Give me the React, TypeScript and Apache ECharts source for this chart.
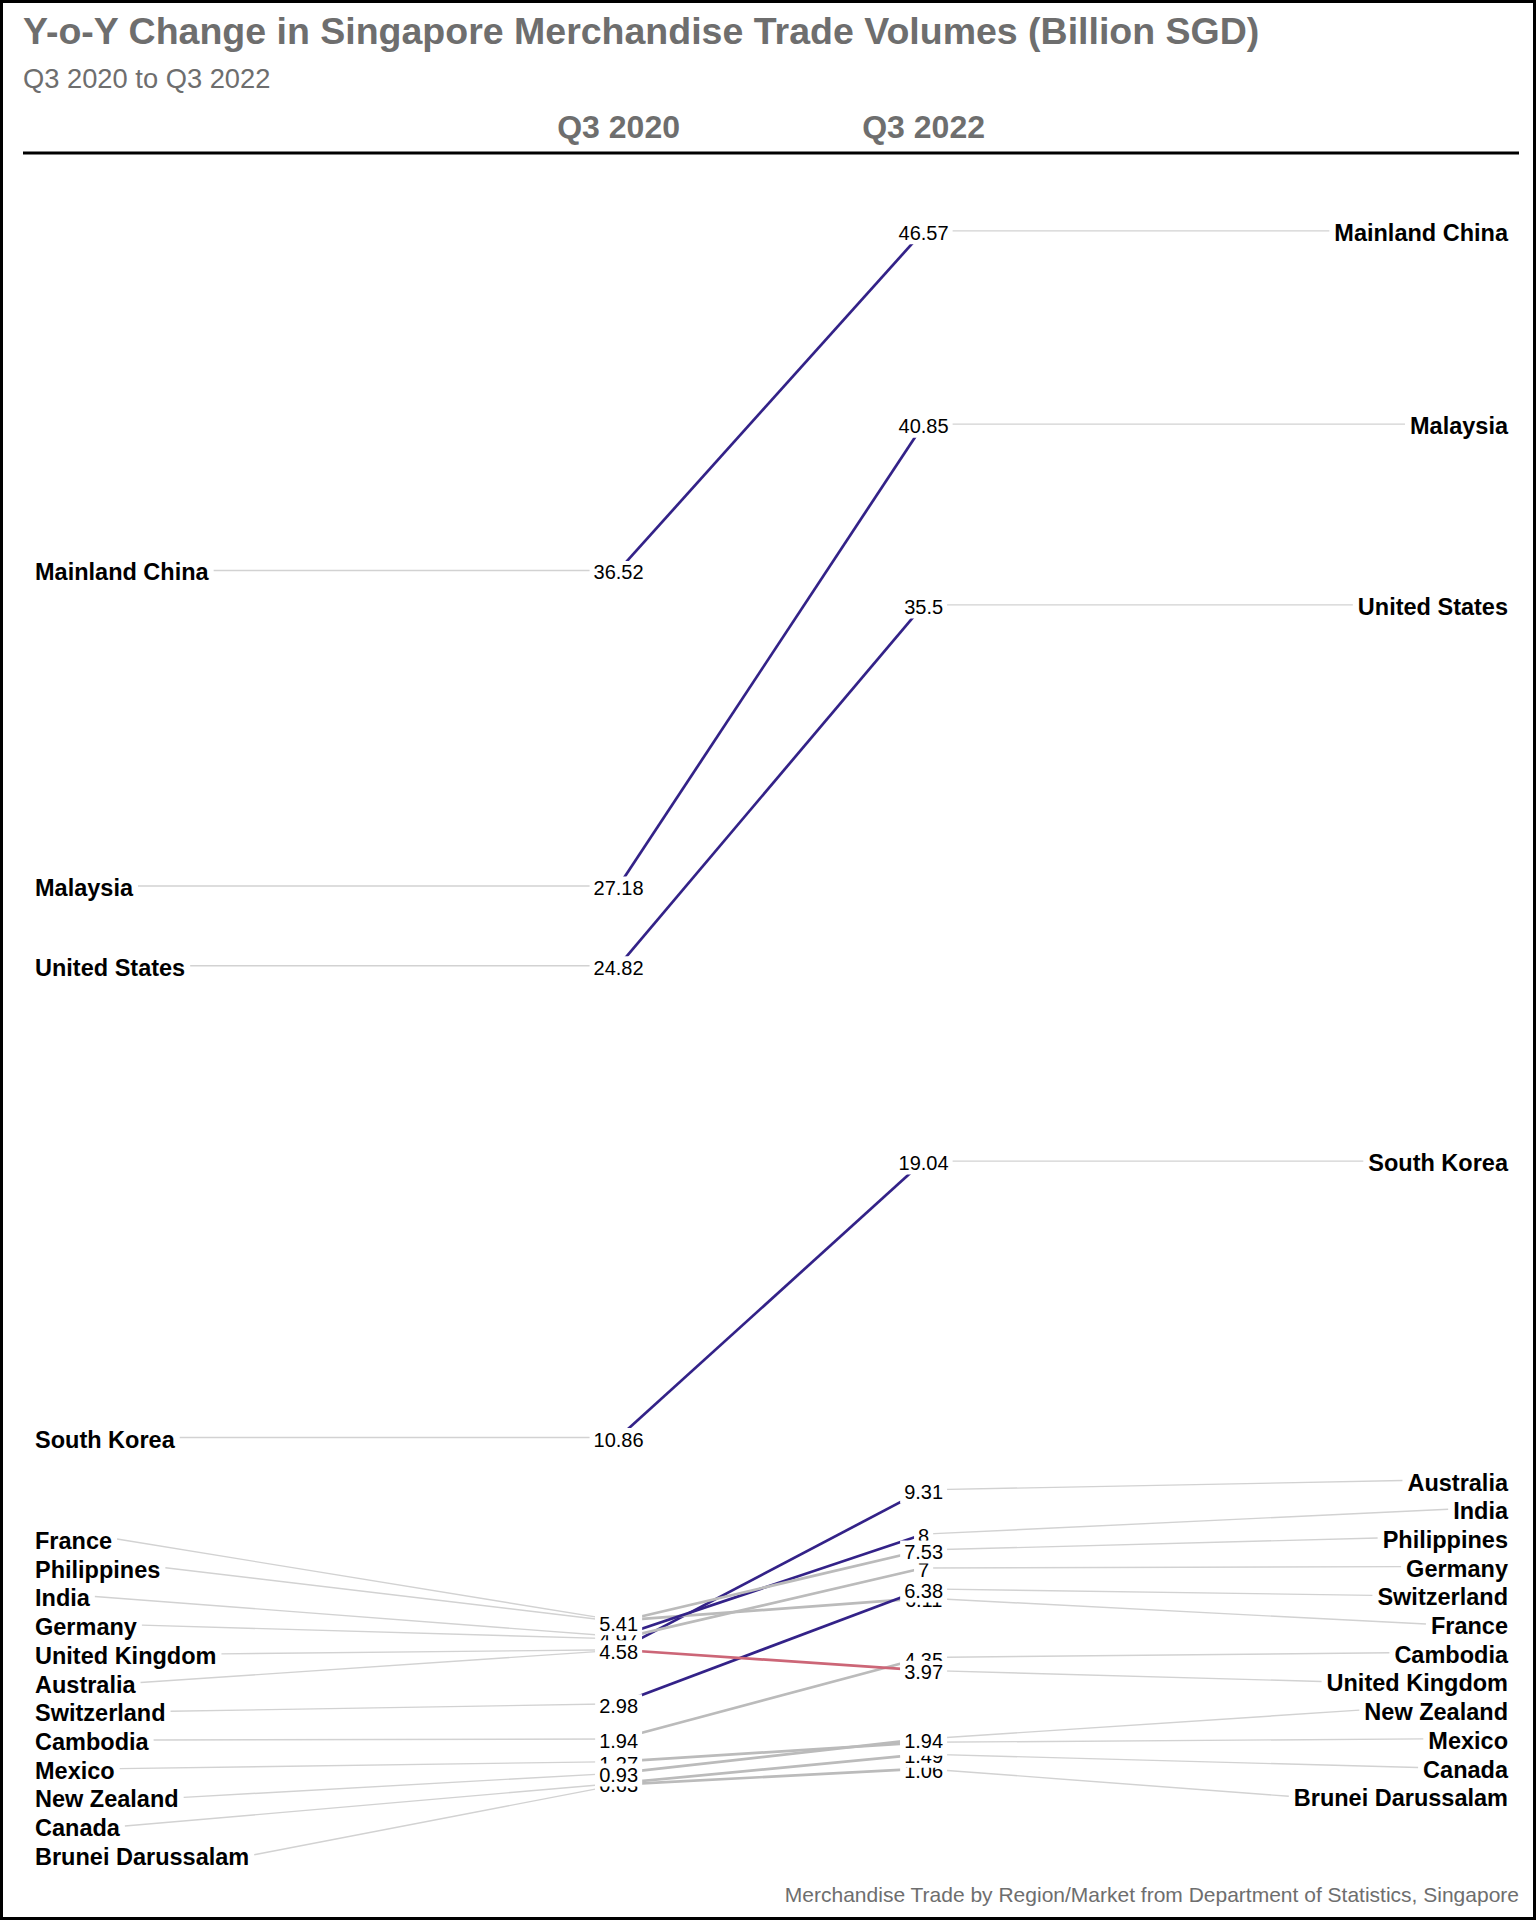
import React, { useEffect, useRef } from "react";
import * as echarts from "echarts";

// ---------- data ----------
const COUNTRIES = [
  "Mainland China",
  "Malaysia",
  "United States",
  "South Korea",
  "France",
  "Philippines",
  "India",
  "Germany",
  "United Kingdom",
  "Australia",
  "Switzerland",
  "Cambodia",
  "Mexico",
  "New Zealand",
  "Canada",
  "Brunei Darussalam",
];
const Q3_2020 = [36.52, 27.18, 24.82, 10.86, 5.44, 5.41, 4.97, 4.9, 4.58, 4.57, 2.98, 1.94, 1.27, 0.93, 0.63, 0.59];
const Q3_2022 = [46.57, 40.85, 35.5, 19.04, 6.11, 7.53, 8, 7, 3.97, 9.31, 6.38, 4.35, 1.84, 1.94, 1.49, 1.06];
const PERIODS = ["Q3 2020", "Q3 2022"];

const TITLE = "Y-o-Y Change in Singapore Merchandise Trade Volumes (Billion SGD)";
const SUBTITLE = "Q3 2020 to Q3 2022";
const CAPTION = "Merchandise Trade by Region/Market from Department of Statistics, Singapore";

// ---------- style ----------
const FONT = '"Liberation Sans", Arial, Helvetica, sans-serif';
const GREY_TEXT = "#6e6e6e";
const UP = "#332288";
const DOWN = "#CC6677";
const FLAT = "#BBBBBB";
const LEADER = "#d2d2d2";
const BIG_CHANGE = 3;
const LABEL_GAP = 28.7; // px between repelled country labels
const LEFT_X = 35;
const RIGHT_X = 1508;
const COUNTRY_FONT_SIZE = 23.5;
const VALUE_FONT_SIZE = 20;

// alphabetical drawing order (later covers earlier)
const ALPHA_RANK: number[] = (() => {
  const idx = COUNTRIES.map((_, i) => i).sort((a, b) => COUNTRIES[a].localeCompare(COUNTRIES[b]));
  const r = new Array(COUNTRIES.length).fill(0);
  idx.forEach((i, k) => (r[i] = k));
  return r;
})();

let measureCtx: CanvasRenderingContext2D | null = null;
function textWidth(text: string, size: number, weight: string) {
  if (!measureCtx) measureCtx = document.createElement("canvas").getContext("2d");
  if (!measureCtx) return text.length * size * 0.55;
  measureCtx.font = `${weight} ${size}px "Liberation Sans", Arial, sans-serif`;
  return measureCtx.measureText(text).width;
}

// simple 1-D label repel: overlapping labels are merged into evenly spaced clusters
function repel(targets: number[], gap: number): number[] {
  const order = targets.map((_, i) => i).sort((a, b) => targets[a] - targets[b]);
  let clusters = order.map((i) => ({ idx: [i], center: targets[i] }));
  let merged = true;
  while (merged) {
    merged = false;
    for (let c = 0; c < clusters.length - 1; c++) {
      const a = clusters[c];
      const b = clusters[c + 1];
      const aBottom = a.center + ((a.idx.length - 1) / 2) * gap;
      const bTop = b.center - ((b.idx.length - 1) / 2) * gap;
      if (bTop - aBottom < gap - 1e-6) {
        const idx = a.idx.concat(b.idx);
        const center = idx.reduce((s, i) => s + targets[i], 0) / idx.length;
        clusters.splice(c, 2, { idx, center });
        merged = true;
        break;
      }
    }
  }
  const out = new Array(targets.length).fill(0);
  clusters.forEach((cl) => {
    const n = cl.idx.length;
    cl.idx.forEach((i, k) => {
      out[i] = cl.center + (k - (n - 1) / 2) * gap;
    });
  });
  return out;
}

function lineColor(i: number) {
  const d = Q3_2022[i] - Q3_2020[i];
  if (d < 0) return DOWN;
  if (d > BIG_CHANGE) return UP;
  return FLAT;
}

const seriesData = COUNTRIES.map((_, i) => [0, Q3_2020[i], 1, Q3_2022[i]]);

function labelPositions(api: any) {
  const left = COUNTRIES.map((_, k) => api.coord([0, Q3_2020[k]])[1]);
  const right = COUNTRIES.map((_, k) => api.coord([1, Q3_2022[k]])[1]);
  return { ly: repel(left, LABEL_GAP), ry: repel(right, LABEL_GAP) };
}

export default function App() {
  const ref = useRef<HTMLDivElement>(null);

  useEffect(() => {
    document.body.style.margin = "0";
    if (!ref.current) return;
    const chart = echarts.init(ref.current, undefined, { renderer: "svg" });

    const option: any = {
      animation: false,
      backgroundColor: "#ffffff",
      grid: { left: 618.6, right: 612.4, top: 155.5, bottom: 115.5 },
      xAxis: {
        type: "value",
        min: 0,
        max: 1,
        interval: 1,
        position: "top",
        axisLine: { show: false },
        axisTick: { show: false },
        splitLine: { show: false },
        axisLabel: {
          showMinLabel: true,
          showMaxLabel: true,
          margin: 12.5,
          formatter: (v: number) => PERIODS[Math.round(v)] ?? "",
          fontSize: 32,
          fontWeight: "bold",
          color: GREY_TEXT,
          fontFamily: FONT,
        },
      },
      yAxis: { type: "value", min: 0, max: 48.8, show: false },
      graphic: [
        {
          type: "rect",
          shape: { x: 1.5, y: 1.5, width: 1533, height: 1917 },
          style: { fill: "none", stroke: "#000", lineWidth: 3 },
          silent: true,
        },
        {
          type: "text",
          x: 23,
          y: 30.7,
          style: {
            text: TITLE,
            fontSize: 37.5,
            fontWeight: "bold",
            fontFamily: FONT,
            fill: GREY_TEXT,
            verticalAlign: "middle",
          },
        },
        {
          type: "text",
          x: 23,
          y: 78,
          style: {
            text: SUBTITLE,
            fontSize: 27.3,
            fontFamily: FONT,
            fill: GREY_TEXT,
            verticalAlign: "middle",
          },
        },
        {
          type: "line",
          shape: { x1: 23, y1: 153, x2: 1519, y2: 153 },
          style: { stroke: "#000", lineWidth: 3 },
        },
        {
          type: "text",
          x: 1519,
          y: 1894.5,
          style: {
            text: CAPTION,
            fontSize: 21,
            fontFamily: FONT,
            fill: GREY_TEXT,
            align: "right",
            verticalAlign: "middle",
          },
        },
      ],
      series: [
        // leader lines from country labels to points
        {
          type: "custom",
          coordinateSystem: "cartesian2d",
          z: 1,
          silent: true,
          encode: { x: [0, 2], y: [1, 3] },
          data: seriesData,
          renderItem: (params: any, api: any) => {
            const i = params.dataIndex;
            const { ly, ry } = labelPositions(api);
            const p1 = api.coord([api.value(0), api.value(1)]);
            const p2 = api.coord([api.value(2), api.value(3)]);
            const w = textWidth(COUNTRIES[i], COUNTRY_FONT_SIZE, "bold");
            return {
              type: "group",
              children: [
                {
                  type: "line",
                  shape: { x1: LEFT_X + w + 5, y1: ly[i], x2: p1[0], y2: p1[1] },
                  style: { stroke: LEADER, lineWidth: 1.4 },
                },
                {
                  type: "line",
                  shape: { x1: p2[0], y1: p2[1], x2: RIGHT_X - w - 5, y2: ry[i] },
                  style: { stroke: LEADER, lineWidth: 1.4 },
                },
              ],
            };
          },
        },
        // slope lines
        {
          type: "custom",
          coordinateSystem: "cartesian2d",
          z: 2,
          silent: true,
          encode: { x: [0, 2], y: [1, 3] },
          data: seriesData,
          renderItem: (params: any, api: any) => {
            const i = params.dataIndex;
            const p1 = api.coord([api.value(0), api.value(1)]);
            const p2 = api.coord([api.value(2), api.value(3)]);
            return {
              type: "line",
              z2: ALPHA_RANK[i],
              shape: { x1: p1[0], y1: p1[1], x2: p2[0], y2: p2[1] },
              style: { stroke: lineColor(i), lineWidth: 2.7 },
            };
          },
        },
        // value labels (white boxes)
        {
          type: "custom",
          coordinateSystem: "cartesian2d",
          z: 3,
          silent: true,
          encode: { x: [0, 2], y: [1, 3] },
          data: seriesData,
          renderItem: (params: any, api: any) => {
            const i = params.dataIndex;
            const p1 = api.coord([api.value(0), api.value(1)]);
            const p2 = api.coord([api.value(2), api.value(3)]);
            const mk = (p: number[], v: number) => ({
              type: "text",
              z2: ALPHA_RANK[i],
              x: p[0],
              y: p[1] + 2,
              style: {
                text: String(v),
                fontSize: VALUE_FONT_SIZE,
                fontFamily: FONT,
                fill: "#000",
                align: "center",
                verticalAlign: "middle",
                backgroundColor: "#ffffff",
                padding: [2, 4],
                lineHeight: 19,
              },
            });
            return {
              type: "group",
              children: [mk(p1, api.value(1)), mk(p2, api.value(3))],
            };
          },
        },
        // country labels
        {
          type: "custom",
          coordinateSystem: "cartesian2d",
          z: 4,
          silent: true,
          encode: { x: [0, 2], y: [1, 3] },
          data: seriesData,
          renderItem: (params: any, api: any) => {
            const i = params.dataIndex;
            const { ly, ry } = labelPositions(api);
            const base = {
              fontSize: COUNTRY_FONT_SIZE,
              fontWeight: "bold",
              fontFamily: FONT,
              fill: "#000",
              verticalAlign: "middle",
              text: COUNTRIES[i],
            };
            return {
              type: "group",
              children: [
                { type: "text", x: LEFT_X, y: ly[i] + 2, style: { ...base, align: "left" } },
                { type: "text", x: RIGHT_X, y: ry[i] + 2, style: { ...base, align: "right" } },
              ],
            };
          },
        },
      ],
    };

    chart.setOption(option);
    return () => chart.dispose();
  }, []);

  return <div ref={ref} style={{ width: 1536, height: 1920 }} />;
}
